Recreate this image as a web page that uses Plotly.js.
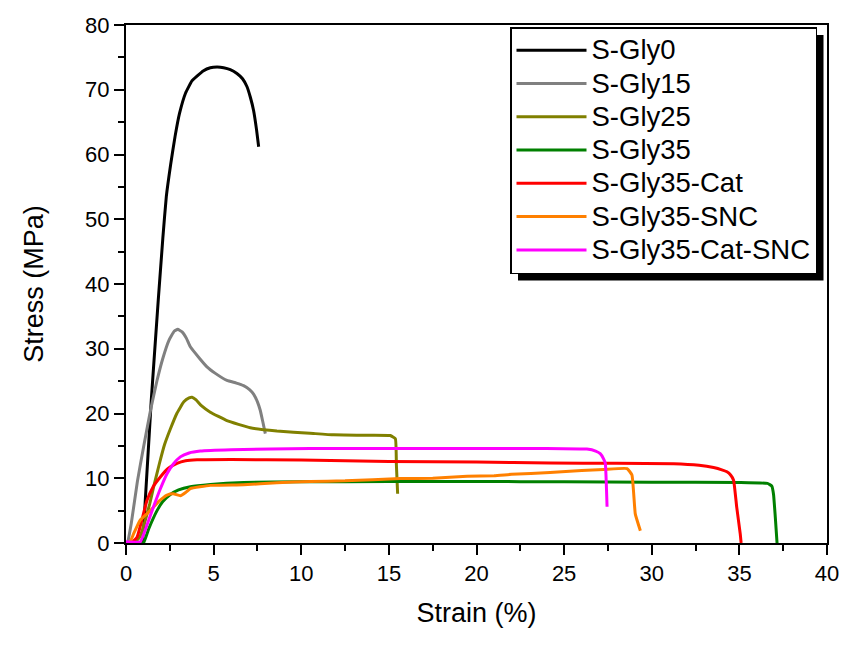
<!DOCTYPE html>
<html>
<head>
<meta charset="utf-8">
<script src="https://cdn.plot.ly/plotly-3.0.1.min.js"></script>
<style>html,body{margin:0;padding:0;background:#fff;}#chart{width:842px;height:657px;}</style>
</head>
<body>
<div id="chart"></div>
<script>
// Series names and colours
const seriesNames = ["S-Gly0","S-Gly15","S-Gly25","S-Gly35","S-Gly35-Cat","S-Gly35-SNC","S-Gly35-Cat-SNC"];
const seriesColors = ["#000000","#808080","#808000","#008000","#ff0000","#ff8000","#ff00ff"];

// Strain (%) and Stress (MPa)
const gly0Strain = [0.3,0.9,1.1,1.44,1.84,2.1,2.3,2.55,2.8,3.05,3.4,3.77,4.05,4.4,4.81,5.2,5.57,5.95,6.33,6.65,6.9,7.1,7.28,7.45,7.57];
const gly0Stress = [0,0,6.6,22,37.5,47,53.5,58.5,62.8,66.3,69.5,71.4,72.1,72.9,73.4,73.5,73.4,73.1,72.5,71.7,70.5,68.8,66.8,63.8,61.2];

const gly15Strain = [0.1,0.3,0.65,1.0,1.4,1.77,2.1,2.45,2.75,2.95,3.2,3.45,3.67,4.2,4.62,5.1,5.76,6.3,6.71,7.05,7.28,7.5,7.66,7.8,7.95];
const gly15Stress = [0,3,9.5,14.8,20.5,25.1,28.5,31.3,32.7,33.0,32.6,31.6,30.3,28.5,27.2,26.2,25.1,24.7,24.3,23.7,23.0,21.8,20.5,18.8,16.9];

const gly25Strain = [0.5,0.8,1.1,1.35,1.58,1.9,2.2,2.53,2.9,3.3,3.6,3.77,4.0,4.3,4.81,5.76,7.09,8.61,10.5,11.85,13.5,15.08,15.37,15.43,15.5];
const gly25Stress = [0,1.0,3.5,6.0,8.7,12.2,15.2,17.6,20.0,21.8,22.4,22.5,22.1,21.2,20.2,18.9,17.8,17.3,16.95,16.7,16.65,16.6,16.1,12.0,7.6];

const gly35Strain = [0,0.8,1.0,1.3,1.77,2.1,2.53,3.0,3.67,4.81,6.71,10,15,20,25,30,35,36.6,36.85,36.95,37.05,37.15];
const gly35Stress = [0,0,0,2.2,5.0,6.4,7.5,8.2,8.7,9.05,9.35,9.45,9.5,9.5,9.45,9.4,9.35,9.2,8.8,7.5,4.0,0];

const catStrain = [0,0.3,0.63,0.9,1.2,1.55,1.96,2.4,2.91,3.4,4.05,6,10,15,20,24.2,28,31.25,32.7,33.53,34.0,34.29,34.5,34.67,34.85,35.05,35.1];
const catStress = [0,0,0.9,3.5,6.6,8.7,10.2,11.5,12.3,12.7,12.85,12.9,12.8,12.6,12.5,12.35,12.3,12.25,12.0,11.65,11.3,11.0,10.5,9.7,5.5,1.4,0];

const sncStrain = [0,0.2,0.43,0.8,1.39,1.9,2.34,2.7,3.1,3.4,3.67,4.81,6.71,8.61,10.5,12.5,15.65,17.5,19.46,21,22,24.2,26,27.25,28.59,28.87,29.06,29.35];
const sncStress = [0,0,1.4,3.5,5.0,6.5,7.4,7.6,7.3,7.8,8.4,8.9,9.0,9.3,9.5,9.6,9.95,10.0,10.3,10.4,10.6,10.9,11.2,11.35,11.5,10.5,4.5,1.9];

const catSncStrain = [0,0.82,1.2,1.57,1.95,2.34,2.7,3.1,3.6,4.24,6,10.5,15,20,24,26.3,26.8,27.06,27.25,27.35,27.45];
const catSncStress = [0.2,0.2,2.8,5.6,8.3,10.7,12.2,13.3,13.9,14.2,14.4,14.6,14.6,14.6,14.6,14.5,14.2,13.8,13.0,12.3,5.6];

const xs = [gly0Strain,gly15Strain,gly25Strain,gly35Strain,catStrain,sncStrain,catSncStrain];
const ys = [gly0Stress,gly15Stress,gly25Stress,gly35Stress,catStress,sncStress,catSncStress];

const xTicks = [0,5,10,15,20,25,30,35,40];
const yTicks = [0,10,20,30,40,50,60,70,80];

const traces = seriesNames.map((n,i)=>({
  x: xs[i], y: ys[i], name: '<span style="font-size:27.5px">' + n + '</span>',
  type: 'scatter', mode: 'lines',
  line: {color: seriesColors[i], width: 3, shape: 'spline', smoothing: 0.35}
}));

const FONT = 'Liberation Sans, Arial, sans-serif';
const W = 842, H = 657, L = 126, R = 15, T = 25, B = 114;
const pw = W - L - R, ph = H - T - B;
const px = v => (v - L) / pw;
const py = v => 1 - (v - T) / ph;

const axisCommon = {
  showgrid: false, zeroline: false, showline: true, linewidth: 2, linecolor: '#000',
  mirror: true, ticks: 'outside', ticklen: 10, tickwidth: 2, tickcolor: '#000',
  tickfont: {family: FONT, size: 22, color: '#000'}
};

const layout = {
  width: W, height: H,
  margin: {l: L, r: R, t: T, b: B},
  paper_bgcolor: '#fff', plot_bgcolor: '#fff',
  font: {family: FONT, color: '#000'},
  xaxis: Object.assign({}, axisCommon, {
    range: [0, 40], tickvals: xTicks, ticktext: xTicks.map(String),
    minor: {dtick: 2.5, ticks: 'outside', ticklen: 6, tickwidth: 2, tickcolor: '#000'},
    title: {text: 'Strain (%)', font: {size: 27, family: FONT}, standoff: 18}
  }),
  yaxis: Object.assign({}, axisCommon, {
    range: [0, 80], tickvals: yTicks, ticktext: yTicks.map(String),
    minor: {dtick: 5, ticks: 'outside', ticklen: 6, tickwidth: 2, tickcolor: '#000'},
    title: {text: 'Stress (MPa)', font: {size: 27, family: FONT}, standoff: 34}
  }),
  showlegend: true,
  legend: {
    x: px(510), y: py(27), xanchor: 'left', yanchor: 'top',
    bgcolor: '#fff', bordercolor: '#000', borderwidth: 1.5,
    font: {family: FONT, size: 23.3, color: '#000'},
    itemwidth: 70, tracegroupgap: 0
  },
  shapes: []
};

Plotly.newPlot('chart', traces, layout, {staticPlot: true, displayModeBar: false}).then(gd => {
  // drop shadow behind the legend box, placed from the legend's rendered size
  const bg = gd.querySelector('.legend .bg');
  const lg = gd.querySelector('.legend');
  if (!bg || !lg) return;
  const m = /translate\(([-\d.]+)[ ,]+([-\d.]+)\)/.exec(lg.getAttribute('transform') || '');
  const ox = m ? parseFloat(m[1]) : 0, oy = m ? parseFloat(m[2]) : 0;
  const w = parseFloat(bg.getAttribute('width')), h = parseFloat(bg.getAttribute('height'));
  const off = 8;
  return Plotly.relayout(gd, {shapes: [{
    type: 'rect', xref: 'paper', yref: 'paper', layer: 'above',
    x0: px(ox + off), x1: px(ox + w + off), y0: py(oy + h + off), y1: py(oy + off),
    fillcolor: '#000', line: {width: 0}
  }]});
});
</script>
</body>
</html>
